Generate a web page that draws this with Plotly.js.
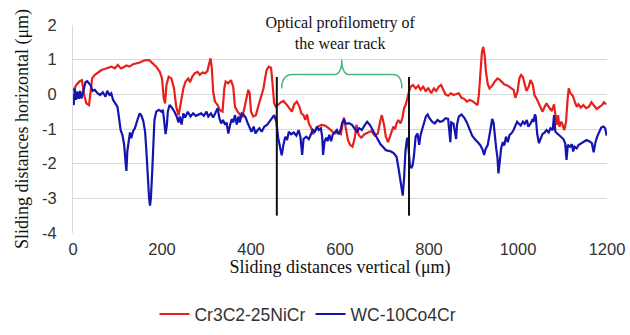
<!DOCTYPE html>
<html>
<head>
<meta charset="utf-8">
<script src="https://cdn.plot.ly/plotly-3.0.1.min.js"></script>
<style>html,body{margin:0;padding:0;background:#fff;}#chart{width:630px;height:335px;}</style>
</head>
<body>
<div id="chart"></div>
<script>
// Cr3C2-25NiCr (red)
const distRed = [0,7.5,15,20,25,30,36,40,43,49,56,64,71,79,86,94,101,107,112,120,127,135,142,150,157,165,172,180,187,195,200,204,207,210,215,221,227,232,237,
238,243,248,253,259,263,268,274,280,285,291,297,302,306,309,312,315,319,325,330,336,340,343,349,355,360,364,370,376,381,386,391,394,397,400,405,411,416,422,428,431,435,440,445,448,452,456,461,467,473,479,
481,486,492,497,503,509,513,518,522,526,530,535,539,545,551,558,566,573,581,588,596,602,606,609,613,618,623,628,633,637,642,648,655,663,670,678,685,691,694,699,703,708,713,720,
724,727,731,736,740,744,748,751,755,759,764,770,776,781,787,793,798,805,811,816,822,827,832,837,843,849,855,861,867,873,879,885,891,897,903,909,912,915,919,922,925,928,932,936,942,948,954,960,
969,977,984,990,994,999,1003,1007,1011,1015,1019,1024,1028,1033,1037,1042,1046,1051,1055,1060,1064,1070,1076,1081,1084,1087,1090,1093,1097,1100,1104,1108,1111,1114,1118,1123,1127,1132,1136,1141,1147,1153,1159,1165,1171,1177,1183,1189,1193,1198];
const valRed = [0.1,0.27,0.38,0.41,-0.02,-0.26,-0.31,0.08,0.46,0.56,0.63,0.70,0.73,0.77,0.80,0.75,0.85,0.75,0.77,0.83,0.80,0.87,0.89,0.92,0.96,0.99,0.98,0.89,0.80,0.65,0.46,-0.12,-0.26,0.27,0.51,0.46,0.17,-0.36,-0.6,
-0.55,-0.12,0.17,0.37,0.46,0.35,0.51,0.61,0.65,0.56,0.63,0.61,0.67,0.89,1.04,0.75,0.08,-0.21,-0.31,-0.45,-0.5,0.17,0.37,0.32,0.41,0.22,-0.36,-0.5,-0.6,-0.64,-0.36,-0.02,0.13,0.03,-0.5,-0.64,-0.6,-0.36,-0.12,0.17,0.41,0.70,0.80,0.77,0.37,-0.26,-0.36,-0.29,-0.23,-0.19,-0.26,
-0.31,-0.4,-0.5,-0.29,-0.21,-0.36,-0.55,-0.6,-0.74,-0.58,-0.84,-0.96,-1.15,-1.03,-0.93,-0.88,-0.9,-0.96,-1.06,-1.13,-1.1,-1.15,-0.84,-0.67,-0.98,-1.32,-1.46,-1.51,-1.27,-0.88,-1.17,-1.25,-1.15,-1.1,-1.06,-1.19,-1.13,-0.74,-0.6,-0.88,-1.22,-1.38,-1.19,-0.93,
-1.0,-0.84,-0.74,-0.84,-0.69,-0.4,-0.29,-0.12,0.08,0.22,0.27,0.17,0.25,0.13,0.22,0.08,0.19,0.03,0.17,0.1,0.22,0.27,0.13,0.0,-0.04,0.03,-0.02,0.0,0.03,-0.1,-0.13,-0.21,-0.16,-0.19,-0.26,-0.31,-0.02,0.65,1.23,1.37,1.13,0.65,0.29,0.17,0.25,0.37,0.46,0.41,
0.29,0.25,0.19,0.13,-0.1,0.08,0.46,0.56,0.5,0.29,0.1,0.22,0.41,0.29,-0.02,-0.13,-0.26,-0.38,-0.5,-0.36,-0.26,-0.38,-0.48,-0.29,-0.64,-0.88,-0.6,-0.93,-0.79,-0.87,-1.03,-0.79,-0.21,0.17,0.03,-0.04,-0.19,-0.36,-0.29,-0.38,-0.31,-0.4,-0.36,-0.23,-0.33,-0.42,-0.36,-0.31,-0.23,-0.29];

// WC-10Co4Cr (blue)
const distBlue = [0,1.5,4,7,10,13,16,19,22,25,28,32,36,40,44,49,55,61,67,73,77,82,86,90,95,100,103,107,111,115,118,120,122,125,128,131,135,139,142,146,150,154,158,162,165,168,171,173,175,178,180,183,187,193,199,202,205,208,211,213,217,222,228,233,
237,240,244,248,252,258,264,270,276,282,288,294,300,304,310,315,321,325,329,333,337,342,345,349,353,357,360,364,368,372,375,379,384,388,392,397,401,406,410,415,419,424,430,436,442,448,452,457,461,465,469,473,477,
481,485,490,496,502,507,511,515,518,524,530,534,539,543,548,552,557,560,562,565,569,572,576,580,584,588,593,597,602,605,609,613,620,627,633,638,643,649,655,661,667,673,679,685,691,697,703,709,715,721,
727,731,735,739,741,744,747,750,752,754,757,760,763,766,770,774,778,781,785,789,793,797,801,807,813,819,825,831,837,843,846,848,850,855,858,861,863,867,873,879,885,891,897,903,909,915,920,924,927,932,936,939,942,945,948,951,954,
956,959,962,966,969,973,977,981,985,990,994,998,1002,1006,1011,1015,1020,1023,1027,1032,1035,1038,1040,1043,1047,1051,1055,1060,1064,1069,1073,1078,1081,1084,1088,1093,1097,1102,1106,1109,1112,1117,1121,1124,1127,1132,1136,1142,1148,1154,1160,1166,1170,1174,1178,1183,1187,1192,1196,1199];
const valBlue = [0.0,-0.31,0.17,-0.16,0.08,-0.13,0.1,-0.12,0.03,0.22,0.35,0.38,0.32,0.25,0.1,0.13,0.03,-0.02,0.06,-0.07,0.1,-0.02,0.03,-0.16,-0.26,-0.36,-0.64,-1.03,-1.17,-1.46,-1.94,-2.21,-1.65,-1.37,-1.1,-1.27,-1.06,-0.98,-0.84,-0.69,-0.55,-0.62,-0.77,-1.08,-1.65,-2.42,-3.0,-3.21,-3.0,-2.23,-1.37,-0.74,-0.5,-0.45,-0.5,-0.45,-0.79,-1.15,-0.88,-0.5,-0.31,-0.38,-0.5,-0.64,
-0.81,-0.64,-0.87,-0.55,-0.67,-0.5,-0.64,-0.55,-0.62,-0.58,-0.55,-0.62,-0.5,-0.64,-0.55,-0.67,-0.48,-0.4,-0.69,-0.84,-0.74,-0.88,-0.81,-1.13,-0.88,-0.71,-0.81,-0.6,-0.87,-0.64,-0.81,-0.55,-0.6,-0.67,-0.81,-0.96,-1.08,-0.93,-1.13,-1.03,-0.98,-1.08,-0.93,-0.88,-0.79,-0.67,-0.6,-0.79,-1.25,-1.5,-1.76,-1.45,-1.22,
-1.32,-1.08,-1.15,-1.1,-1.19,-1.03,-1.22,-1.75,-1.29,-1.22,-1.29,-1.15,-1.03,-1.1,-0.93,-1.03,-0.98,-1.22,-1.75,-1.37,-1.25,-1.35,-1.17,-1.35,-1.15,-1.1,-1.03,-1.15,-1.0,-0.81,-0.74,-0.85,-0.83,-0.88,-0.98,-1.08,-0.98,-1.03,-0.9,-0.79,-0.88,-1.03,-1.15,-1.29,-1.44,-1.52,-1.61,-1.63,-1.65,-1.7,
-1.8,-2.09,-2.42,-2.81,-2.92,-2.42,-1.65,-1.32,-1.25,-1.56,-2.04,-2.13,-2.06,-1.8,-1.22,-1.13,-1.46,-1.17,-0.98,-0.79,-0.64,-0.58,-0.69,-0.79,-0.84,-0.74,-0.79,-0.77,-0.69,-0.71,-1.08,-1.38,-0.81,-0.85,-1.06,-1.29,-0.87,-0.64,-0.58,-0.67,-0.81,-1.03,-1.19,-1.29,-1.37,-1.46,-1.58,-1.75,-1.58,-1.46,-1.17,-0.88,-0.71,-0.81,-1.27,-1.56,-1.85,
-2.28,-1.94,-1.56,-1.38,-1.48,-1.22,-1.38,-1.17,-1.13,-1.03,-0.9,-0.79,-0.85,-0.9,-0.79,-0.85,-0.74,-0.93,-0.87,-0.74,-0.79,-0.58,-0.64,-1.13,-1.41,-1.29,-1.15,-1.1,-1.03,-1.1,-0.98,-1.03,-0.6,-1.08,-1.13,-1.19,-1.22,-1.29,-1.41,-1.89,-1.46,-1.51,-1.44,-1.65,-1.51,-1.56,-1.46,-1.41,-1.37,-1.32,-1.35,-1.41,-1.67,-1.38,-1.22,-1.1,-0.96,-0.93,-0.98,-1.19];

const seriesNames = ['Cr3C2-25NiCr', 'WC-10Co4Cr'];
const xTicks = [0, 200, 400, 600, 800, 1000, 1200];
const yTicks = [-4, -3, -2, -1, 0, 1, 2];

// wear track markers (vertical lines) and bracket
const wearTrackX = [458, 755];
const wearTrackY = [0.5, -3.5];
const braceX = [469, 494, 604, 719, 739];   // left end, left shoulder, tip, right shoulder, right end
const braceY = [0.17, 0.57, 1.0];           // ends, bar, tip
const noteText = 'Optical profilometry of<br>the wear track';

const bracePath = 'M ' + braceX[0] + ',' + braceY[0] +
  ' Q ' + braceX[0] + ',' + braceY[1] + ' ' + braceX[1] + ',' + braceY[1] +
  ' L ' + (braceX[2] - 18) + ',' + braceY[1] +
  ' Q ' + braceX[2] + ',' + braceY[1] + ' ' + braceX[2] + ',' + braceY[2] +
  ' Q ' + braceX[2] + ',' + braceY[1] + ' ' + (braceX[2] + 18) + ',' + braceY[1] +
  ' L ' + braceX[3] + ',' + braceY[1] +
  ' Q ' + braceX[4] + ',' + braceY[1] + ' ' + braceX[4] + ',' + braceY[0];

const traces = [
  {x: distRed, y: valRed, name: seriesNames[0], type: 'scatter', mode: 'lines',
   line: {color: '#e8201c', width: 2.2}},
  {x: distBlue, y: valBlue, name: seriesNames[1], type: 'scatter', mode: 'lines',
   line: {color: '#1414b0', width: 2.2}}
];

const shapes = wearTrackX.map(v => ({type: 'line', xref: 'x', yref: 'y', x0: v, x1: v,
  y0: wearTrackY[0], y1: wearTrackY[1], line: {color: '#111', width: 2}}));
shapes.push({type: 'path', xref: 'x', yref: 'y', path: bracePath,
  line: {color: '#44b87a', width: 1.5}});

const tickFont = {family: 'Liberation Sans, Arial, sans-serif', size: 16.5, color: '#333'};
const serif = 'Liberation Serif, Times New Roman, serif';

const layout = {
  width: 630, height: 335,
  margin: {l: 73, r: 23, t: 25, b: 102, autoexpand: false},
  paper_bgcolor: '#fff', plot_bgcolor: '#fff',
  showlegend: true,
  legend: {orientation: 'h', x: 0.44, xanchor: 'center', y: -0.39, yanchor: 'middle',
    font: {family: 'Liberation Sans, Arial, sans-serif', size: 17.5, color: '#333'},
    itemwidth: 30, tracegroupgap: 0},
  xaxis: {range: [0, 1200], tickvals: xTicks, ticktext: xTicks.map(String), showgrid: false,
    zeroline: false, showline: false, ticks: '', tickfont: tickFont, ticklabelstandoff: 4, automargin: false,
    title: {text: 'Sliding distances vertical (μm)', font: {family: serif, size: 18, color: '#111'}, standoff: 3}},
  yaxis: {range: [-4, 2], tickvals: yTicks, ticktext: yTicks.map(String), showgrid: true,
    gridcolor: '#d9d9d9', gridwidth: 1, zeroline: true, zerolinecolor: '#d9d9d9', zerolinewidth: 1,
    showline: true, linecolor: '#d9d9d9', linewidth: 1, ticks: '', tickfont: tickFont, ticklabelstandoff: 12, automargin: false,
    title: {text: 'Sliding distances horizontal (μm)', font: {family: serif, size: 18, color: '#111'}, standoff: 8}},
  shapes: shapes,
  annotations: [{xref: 'x', yref: 'paper', x: 602, y: 0.96, yanchor: 'middle', xanchor: 'center',
    text: noteText, showarrow: false, align: 'center', bgcolor: '#fff', width: 185,
    font: {family: serif, size: 16, color: '#111'}}]
};

Plotly.newPlot('chart', traces, layout, {displayModeBar: false, staticPlot: true});
</script>
</body>
</html>
